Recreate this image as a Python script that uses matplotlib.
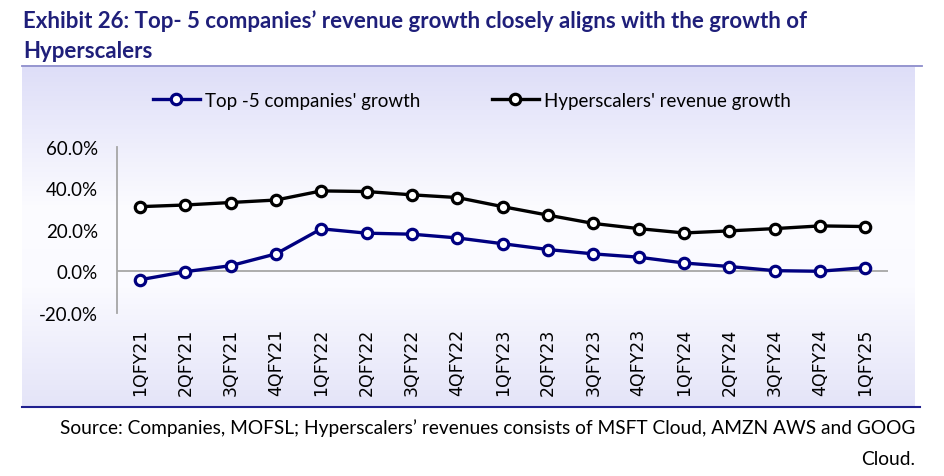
import numpy as np
import matplotlib as mpl
mpl.use('Agg')
import matplotlib.pyplot as plt
from matplotlib.lines import Line2D
from matplotlib.ticker import FixedLocator, FuncFormatter

quarters = ['1QFY21', '2QFY21', '3QFY21', '4QFY21', '1QFY22', '2QFY22', '3QFY22',
            '4QFY22', '1QFY23', '2QFY23', '3QFY23', '4QFY23', '1QFY24', '2QFY24',
            '3QFY24', '4QFY24', '1QFY25']
top5_growth = [-4.1, -0.2, 2.7, 8.4, 20.5, 18.4, 17.9, 16.1, 13.3, 10.5, 8.4,
               6.8, 4.0, 2.3, 0.3, 0.0, 1.8]
hyper_growth = [31.2, 32.0, 33.2, 34.4, 38.8, 38.5, 36.9, 35.6, 31.2, 27.1, 23.1,
                20.6, 18.5, 19.5, 20.6, 21.9, 21.6]
y_ticks = [-20, 0, 20, 40, 60]

title_1 = 'Exhibit 26: Top- 5 companies\u2019 revenue growth closely aligns with the growth of'
title_2 = 'Hyperscalers'
source_1 = 'Source: Companies, MOFSL; Hyperscalers\u2019 revenues consists of MSFT Cloud, AMZN AWS and GOOG'
source_2 = 'Cloud.'

W, H = 944, 477
navy = '#000080'
title_col = '#1F1F7A'
font = ['Lato', 'DejaVu Sans']

fig = plt.figure(figsize=(W / 100, H / 100), dpi=100)

# panel with vertical lavender -> white -> lavender gradient
bg = fig.add_axes([22 / W, 1 - 408 / H, (915 - 22) / W, (408 - 68) / H])
stops = np.array([0.0, 0.42, 0.65, 1.0])
cols = np.array([[222, 222, 248], [252, 252, 255], [250, 250, 255], [228, 228, 248]]) / 255
yy = np.linspace(0, 1, 300)
grad = np.stack([np.interp(yy, stops, cols[:, k]) for k in range(3)], axis=1)
bg.imshow(grad[:, None, :], aspect='auto', extent=[0, 1, 0, 1])
bg.axis('off')

ax = fig.add_axes([117.3 / W, 1 - 313.7 / H, 770.7 / W, 165.7 / H])
ax.patch.set_alpha(0)
x = np.arange(len(quarters))

ax.plot(x, hyper_growth, color='black', lw=2.4, marker='o', ms=7.5, mew=2.3,
        mfc='white', mec='black', label="Hyperscalers' revenue growth", zorder=3)
ax.plot(x, top5_growth, color=navy, lw=2.4, marker='o', ms=7.5, mew=2.3,
        mfc='white', mec=navy, label="Top -5 companies' growth", zorder=4)
ax.axhline(0, color='#A6A6A6', lw=1.3, zorder=1)

ax.set_xlim(-0.5, len(quarters) - 0.5)
ax.set_ylim(-20, 60)
ax.yaxis.set_major_locator(FixedLocator(y_ticks))
ax.yaxis.set_major_formatter(FuncFormatter(lambda v, p: f'{v:.1f}%'))
ax.set_xticks(x)
ax.set_xticklabels(quarters, rotation=90, fontsize=12.5, family='DejaVu Sans')
ax.tick_params(axis='x', length=0, pad=11)
ax.tick_params(axis='y', length=0, pad=14, labelsize=13.5)
for lab in ax.get_yticklabels():
    lab.set_family(font)
for s in ['top', 'right', 'bottom']:
    ax.spines[s].set_visible(False)
ax.spines['left'].set_color('#A6A6A6')
ax.spines['left'].set_linewidth(1.3)

h, l = ax.get_legend_handles_labels()
fig.legend(h[::-1], l[::-1], loc='center', bbox_to_anchor=(472 / W, 1 - 101 / H), ncol=2,
           frameon=False, prop={'family': font, 'size': 13.5}, handlelength=2.5,
           columnspacing=3.8, handletextpad=0.3)

fig.text(23 / W, 1 - 21 / H, title_1, ha='left', va='center', fontsize=16, fontweight='bold',
         color=title_col, family=font)
fig.text(23 / W, 1 - 52 / H, title_2, ha='left', va='center', fontsize=16, fontweight='bold',
         color=title_col, family=font)
fig.add_artist(Line2D([22 / W, 922 / W], [1 - 67 / H] * 2, color='#8C8CCC', lw=1.3))
fig.add_artist(Line2D([22 / W, 920 / W], [1 - 408 / H] * 2, color='#1F1F8F', lw=1.5))
fig.text(915 / W, 1 - 428 / H, source_1, ha='right', va='center', fontsize=13.8, family=font)
fig.text(915 / W, 1 - 460 / H, source_2, ha='right', va='center', fontsize=13.8, family=font)

fig.savefig('out.png', dpi=100)
